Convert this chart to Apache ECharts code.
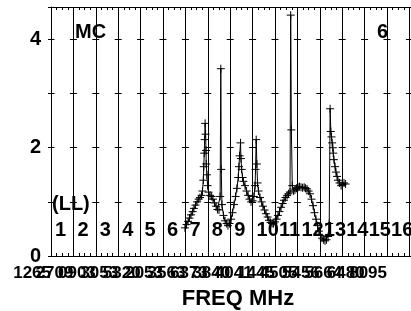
<!DOCTYPE html>
<html>
<head>
<meta charset="utf-8">
<script src="https://cdn.jsdelivr.net/npm/echarts@6/dist/echarts.min.js"></script>
<style>
  html, body { margin: 0; padding: 0; background: #fff; }
  #main { width: 411px; height: 311px; }
</style>
</head>
<body>
<div id="main"></div>
<script>
// 横坐标（以通道为单位）
var chanX = [5.98, 6.05, 6.12, 6.18, 6.25, 6.32, 6.38, 6.45, 6.52, 6.59,
    6.65, 6.72, 6.76, 6.80, 6.82, 6.84, 6.86, 6.88, 6.90, 6.92,
    6.93, 6.96, 6.99, 7.03, 7.10, 7.17, 7.23, 7.30, 7.37, 7.43,
    7.50, 7.55, 7.58, 7.60, 7.63, 7.70, 7.77, 7.84, 7.90, 7.97,
    8.04, 8.10, 8.17, 8.24, 8.30, 8.36, 8.39, 8.42, 8.46, 8.48,
    8.51, 8.55, 8.59, 8.66, 8.73, 8.80, 8.86, 8.93, 9.00, 9.06,
    9.11, 9.13, 9.16, 9.19, 9.22, 9.26, 9.33, 9.40, 9.46, 9.53,
    9.60, 9.67, 9.73, 9.80, 9.87, 9.93, 10.00, 10.07, 10.13, 10.20,
    10.27, 10.34, 10.40, 10.47, 10.54, 10.60, 10.67, 10.70, 10.73, 10.77,
    10.83, 10.89, 10.96, 11.03, 11.09, 11.16, 11.23, 11.30, 11.36, 11.43,
    11.50, 11.56, 11.63, 11.70, 11.76, 11.83, 11.90, 11.96, 12.03, 12.10,
    12.17, 12.23, 12.30, 12.37, 12.42, 12.46, 12.49, 12.52, 12.55, 12.58,
    12.60, 12.63, 12.68, 12.72, 12.77, 12.81, 12.88, 12.95, 13.01, 13.08, 13.15];
// 功率
var power = [0.52, 0.58, 0.64, 0.70, 0.76, 0.82, 0.88, 0.94, 1.00, 1.05,
    1.08, 1.12, 1.20, 1.40, 1.65, 1.90, 2.15, 2.45, 2.25, 1.95,
    1.70, 1.50, 1.30, 1.18, 1.12, 1.10, 1.05, 0.98, 0.92, 0.86,
    0.85, 1.10, 3.46, 1.60, 0.95, 0.75, 0.65, 0.60, 0.56, 0.60,
    0.68, 0.80, 0.95, 1.10, 1.25, 1.45, 1.65, 1.85, 2.09, 1.80,
    1.60, 1.45, 1.38, 1.30, 1.20, 1.12, 1.05, 1.00, 1.02, 1.10,
    1.30, 1.60, 2.15, 1.70, 1.35, 1.20, 1.08, 1.00, 0.92, 0.85,
    0.78, 0.72, 0.66, 0.62, 0.60, 0.60, 0.63, 0.68, 0.75, 0.82,
    0.90, 0.97, 1.03, 1.08, 1.12, 1.15, 1.18, 4.45, 2.33, 1.30,
    1.20, 1.22, 1.25, 1.27, 1.28, 1.27, 1.26, 1.27, 1.25, 1.24,
    1.20, 1.15, 1.05, 0.93, 0.80, 0.68, 0.56, 0.46, 0.38, 0.33,
    0.30, 0.28, 0.30, 0.36, 0.60, 2.72, 2.30, 2.20, 2.09, 2.00,
    1.90, 1.78, 1.65, 1.55, 1.47, 1.40, 1.35, 1.30, 1.32, 1.35, 1.33];
// 通道编号
var channels = ['1', '2', '3', '4', '5', '6', '7', '8', '9', '10', '11', '12', '13', '14', '15', '16'];
// 频率刻度标签
var freqLabels = ['1265', '2709', '0903', '3053', '5320', '2053', '3563', '6373', '3840', '4041', '1445', '4505', '5456', '5664', '6480', '8095'];
var yTicks = [0, 2, 4];

var chart = echarts.init(document.getElementById('main'));
var font = 'Liberation Sans, Arial, sans-serif';

var data = [];
for (var i = 0; i < chanX.length; i++) {
    data.push([chanX[i], power[i]]);
}

var baseX = {
    type: 'value',
    min: 0,
    max: 16.07,
    interval: 1,
    axisLine: { show: true, onZero: false, lineStyle: { color: '#000', width: 1 } },
    axisTick: { show: true, inside: true, length: 4, lineStyle: { color: '#000' } },
    minorTick: { show: true, splitNumber: 4, length: 3, lineStyle: { color: '#000' } },
    splitLine: { show: false },
    axisLabel: { show: false }
};

// 频率标签分两条轴画（奇偶），避免重叠时被隐藏
function freqLabelAxis(parity) {
    return {
        type: 'value', min: 0, max: 16.07, interval: 1, position: 'bottom',
        axisLine: { show: false }, axisTick: { show: false }, splitLine: { show: false },
        axisLabel: {
            show: true, margin: 9, align: 'right',
            color: '#000', fontSize: 17, fontWeight: 'bold', fontFamily: font,
            showMinLabel: true, showMaxLabel: true, hideOverlap: false,
            formatter: function (v) {
                var k = Math.round(v);
                return k % 2 === parity ? (freqLabels[k] || '') : '';
            }
        }
    };
}

var option = {
    animation: false,
    backgroundColor: '#fff',
    grid: { left: 51, top: 7, width: 360, height: 249, containLabel: false, outerBoundsMode: 'none' },
    xAxis: [
        echarts.util.merge({
            position: 'bottom',
            name: 'FREQ MHz',
            nameLocation: 'middle',
            nameGap: 32,
            nameTextStyle: { color: '#000', fontSize: 22, fontWeight: 'bold', fontFamily: font, padding: [0, 0, 0, 14] },
            splitLine: { show: true, lineStyle: { color: '#000', width: 1 } }
        }, baseX, false),
        echarts.util.merge({ position: 'top' }, baseX, false),
        {
            type: 'value', min: 0, max: 16.07, interval: 1, position: 'bottom',
            axisLine: { show: false }, axisTick: { show: false }, splitLine: { show: false },
            axisLabel: {
                show: true, inside: true, margin: 16, align: 'left', padding: [0, 0, 0, 4],
                color: '#000', fontSize: 20, fontWeight: 'bold', fontFamily: font,
                showMinLabel: true, hideOverlap: false,
                formatter: function (v) { return channels[Math.round(v)] || ''; }
            }
        },
        freqLabelAxis(0),
        freqLabelAxis(1)
    ],
    yAxis: {
        type: 'value',
        min: 0,
        max: 4.6,
        interval: 1,
        axisLine: { show: true, lineStyle: { color: '#000' } },
        axisTick: { show: true, length: 3, lineStyle: { color: '#000' } },
        splitLine: { show: true, lineStyle: { color: '#000', width: 1, type: [7, 15.4], dashOffset: 3.5 } },
        axisLabel: {
            margin: 10,
            color: '#000',
            fontSize: 20,
            fontWeight: 'bold',
            fontFamily: font,
            showMinLabel: true,
            formatter: function (v) { return yTicks.indexOf(v) >= 0 ? String(v) : ''; }
        }
    },
    graphic: [
        { type: 'text', left: 75, top: 22, style: { text: 'MC', fill: '#000', font: 'bold 20px ' + font } },
        { type: 'text', right: 23, top: 22, style: { text: '6', fill: '#000', font: 'bold 20px ' + font } },
        { type: 'text', left: 52, top: 194, style: { text: '(LL)', fill: '#000', font: 'bold 20px ' + font } }
    ],
    series: [{
        type: 'line',
        xAxisIndex: 0,
        data: data,
        symbol: 'path://M0,5L10,5M5,0L5,10',
        symbolSize: 8,
        showAllSymbol: true,
        itemStyle: { color: 'none', borderColor: '#000', borderWidth: 1 },
        lineStyle: { color: '#000', width: 1 }
    }]
};
chart.setOption(option);
</script>
</body>
</html>
